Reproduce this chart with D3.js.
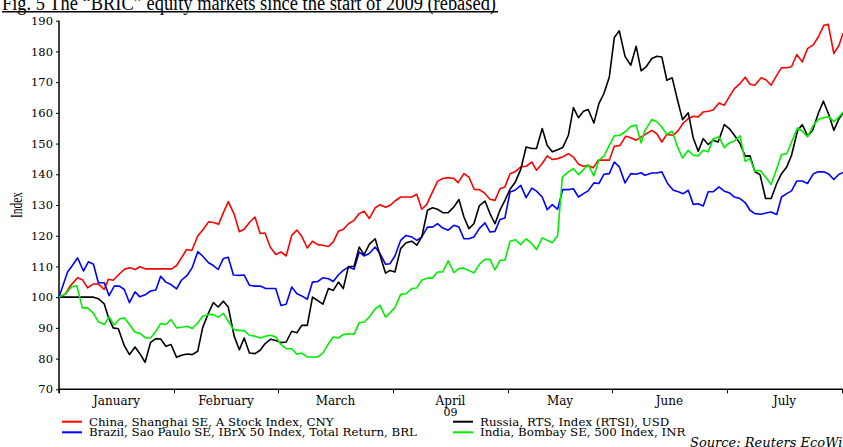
<!DOCTYPE html>
<html>
<head>
<meta charset="utf-8">
<script src="https://cdn.jsdelivr.net/npm/d3@7"></script>
<style>
  body { margin: 0; background: #fff; }
  svg { display: block; }
  .tick text { font-family: "DejaVu Serif", serif; }
</style>
</head>
<body>
<div id="chart"></div>
<script>
// days after 1 Jan 2009, index rebased to 100
var china = [[0,100],[1.6,100.9],[3,103.6],[5,106.3],[6.3,105.7],[7.7,103],[9.3,104.3],[10.6,104.3],[12.2,102.5],[13.3,105.8],[14.6,105.5],[16.4,107.7],[17.8,109.2],[19.1,109.6],[20.5,109],[21.8,109.9],[23.4,109.2],[30.4,109.2],[31.7,110.3],[33,112.8],[34.4,115.5],[35.8,115.2],[37.4,119.9],[38.9,122.1],[40.3,124.5],[41.6,124.3],[43,123.7],[44.3,127.5],[45.6,131.1],[47.2,127],[48.6,121.3],[49.9,122.1],[51.3,124.3],
  [52.8,126.1],[54.2,120.7],[55.5,120.9],[56.9,116.3],[58.4,113.9],[59.8,114.7],[61.2,113.4],[62.7,120.1],[64.1,121.8],[65.4,119.8],[66.9,116],[68.3,118.2],[69.7,117.1],[71.1,116.9],[72.6,116.5],[73.9,118],[75.3,121.5],[76.6,122],[78,123.9],[79.5,125],[80.9,127.2],[82.2,128],[83.6,125.6],[85.2,129.1],[86.5,130.1],[88,129.3],[89.2,129.9],
  [90.5,131.3],[92,132.6],[93.4,132.6],[94.9,132.6],[96.2,133.5],[97.5,128.6],[98.8,130.2],[100.1,133.7],[101.6,137.7],[103,138.6],[104.4,138.9],[105.9,138.6],[107,137.3],[108.5,140.2],[109.8,139.1],[111.2,135.1],[112.5,135],[113.8,134],[115.3,131.9],[116.6,131.5],[117.9,135.3],[119.2,135.9],
  [120.6,140.2],[122.1,140.8],[123.8,142.4],[125.4,142.6],[127.1,144],[128.5,141.3],[130.2,143.5],[131.7,146],[133.2,144.8],[134.8,145.1],[136.2,145.6],[138,146.7],[139.5,145.6],[141,143.3],[142.5,142.6],[143.9,142.9],[145.4,142.1],[146.9,144.6],[148.4,144.6],[150.2,144.6],
  [151.6,149.1],[153.1,149.4],[154.6,152.4],[155.9,151.9],[157.3,151.1],[159.6,152.9],[161.4,154.3],[162.7,153.2],[164,150.5],[165.3,153],[167,152.7],[168.3,154.3],[169.6,156.7],[170.9,158.1],[172.2,158.9],[173.5,158.7],[174.8,160.3],[176.1,160.5],[177.4,160.9],[178.9,163.2],[180.3,162.5],
  [181.6,165.2],[183,167.9],[184.5,169.5],[185.9,171.6],[187.2,169.3],[188.5,169],[190.2,171.4],[191.5,170.8],[192.9,169],[194.4,172.2],[195.7,174.7],[197.1,174.7],[198.4,175],[199.8,179],[201.3,176.6],[202.7,180.9],[204.3,182.2],[205.6,184.7],[207.1,188.5],[208.3,188.8],[209.8,179.3],[211.2,182],[212.3,186]];

var brazil = [[0,100],[2.3,108.2],[3.6,110.3],[5,112.8],[6.6,108.5],[7.9,111.5],[9.3,110.7],[10.6,104.7],[12.2,104.7],[13.5,100.5],[14.9,103.6],[16.3,103.6],[17.6,102.5],[19,98.2],[20.5,101.7],[21.8,100.1],[23.4,100.9],[24.7,102],[26.1,102.3],[27.4,106.8],[28.8,104.9],[30.2,104.1],[31.7,102.7],[33,105.5],[34.6,107.2],[35.9,109.6],[37.4,114.8],[38.7,113.4],[40.3,111.2],[41.6,110.3],[42.9,109],[44.3,112.6],[45.6,113],[47,107.2],[48.6,107.1],[49.9,107.2],[51.3,103.9],
  [52.8,103.6],[54.2,103.6],[55.7,102.8],[58.4,102.8],[59.8,97.3],[61.2,97.7],[62.7,103.3],[64.1,101.1],[65.4,100.4],[66.9,99.3],[68.3,104.9],[69.7,105.1],[71.1,106.3],[72.6,106],[73.9,105.1],[75.3,107.3],[76.6,108.7],[78,109.8],[79.5,109.1],[80.9,114.7],[82.2,113.4],[83.6,114.2],[85.2,116.3],[86.5,114.2],[88,110.7],[89.2,110.9],
  [90.5,113.4],[92,118.5],[93.4,120.1],[94.9,119.6],[96.2,118.5],[97.5,119.6],[99,122.8],[100.3,122.8],[101.6,123.9],[103,122.5],[104.4,121.8],[105.9,123.4],[107.2,122.8],[108.5,119],[109.8,119],[111.1,119.6],[112.5,122.3],[114,124.2],[115.3,121.2],[116.6,121.4],[117.9,125.3],[119.2,125.8],
  [120.6,134.2],[122.1,134.8],[123.8,136.4],[125.4,132.4],[127.1,135.5],[128.5,134.5],[130.2,132.6],[131.7,128.5],[133.2,130.1],[134.8,128.6],[136.3,135],[138,135],[139.5,135.3],[141,132.6],[142.5,133.7],[143.9,134.6],[145.6,137.2],[147.1,137],[148.6,140],[150.2,140.2],
  [151.6,144],[152.9,142.4],[154.4,137.2],[155.9,140.2],[157.3,140],[158.6,140.5],[159.6,139.7],[161.4,140.4],[162.7,140.4],[164,140.8],[165.5,137],[167,134.8],[168.3,134.3],[169.6,133.7],[170.9,134.8],[172.2,130.2],[173.5,130.4],[174.8,129.7],[176.1,134.3],[177.4,134.3],[178.9,135.9],[180.3,134.5],
  [181.6,134],[183,132.6],[184.5,132.1],[185.9,130.8],[187.2,128.3],[188.5,127.2],[190.2,127],[191.5,127.4],[192.9,127.7],[194.4,126.9],[195.7,132.6],[197.1,133.7],[198.4,134.6],[199.8,137.8],[201.3,137.8],[202.7,137],[204.3,140.2],[205.6,140.8],[207.1,140.8],[208.3,140.2],[209.8,138.3],[211.2,140],[212.3,140.6]];

var russia = [[0,100],[9.3,100],[10.6,99.5],[12.2,97.8],[13.3,93.5],[14.6,90],[16,89.7],[17.6,84.2],[19,81.3],[20.5,83.8],[21.8,81.6],[23.2,78.8],[24.7,85.3],[26.1,86.5],[27.4,86.4],[28.8,84],[30.2,84.6],[31.7,80.4],[33,81.1],[34.6,81.5],[35.9,81.3],[37.4,82.4],[38.7,90],[40.3,94.9],[41.6,98.2],[42.9,96.8],[44.3,98.7],[45.6,96.8],[47.2,87.3],[48.6,82.9],[49.9,86.7],[51.3,81.8],
  [52.8,81.6],[54.2,82.7],[55.5,84.8],[57,86.3],[58.4,85.9],[59.8,85.2],[61.2,85.4],[62.7,88.9],[64.1,88.4],[65.4,90.8],[66.9,90.8],[68.3,100],[69.7,98.9],[71.1,97.7],[72.6,102.8],[73.9,102.2],[75.3,104.9],[76.6,102.8],[78,110],[79.5,110],[80.9,116.3],[82.2,113.8],[83.6,117.2],[85.2,119],[86.5,113.6],[88,107.8],[89.2,108.7],
  [90.5,108.2],[92,115.8],[93.4,117.7],[94.9,118.2],[96.2,116.9],[97.5,119.6],[99,128.3],[100.3,129.1],[101.6,128.6],[103,127.5],[104.4,127.5],[105.9,129.4],[107.2,131.8],[108.5,126.1],[109.8,122.3],[111.1,123.9],[112.5,129.7],[114,131.3],[115.3,127.2],[116.6,123.9],[117.9,128.3],[119.2,131.5],
  [120.6,135.1],[122.1,137.3],[123.8,141.6],[125.4,148.9],[127.1,148.4],[128.5,148.4],[130.2,154.9],[131.7,149.4],[133.2,147.3],[134.8,148],[136.3,148.7],[138,152.7],[139.5,161.7],[141,158.4],[142.5,160.5],[143.9,161.1],[145.6,156.7],[147.1,163],[148.6,166.3],[150.2,171.7],
  [151.6,184.5],[152.9,186.7],[154.4,178.4],[155.9,175.5],[157.3,181.7],[158.6,173.7],[159.9,175],[161.4,177.7],[162.7,178.4],[164,178.2],[165.3,170.6],[166.7,171.4],[168.1,164.1],[169.4,157.8],[170.9,160],[172.2,151.8],[173.5,147.5],[174.8,151.6],[176.1,149.7],[177.4,151.1],[178.7,150.5],[180.3,156.2],
  [181.6,154.9],[183,152.7],[184.5,150],[185.9,145.9],[187.2,146],[188.5,140.8],[189.9,139.9],[191.4,132.1],[192.9,132.1],[194.4,137],[195.7,140.2],[197.1,142.4],[198.4,146.2],[200,154.1],[201.3,156.2],[202.7,152.5],[204.1,154.3],[205.6,159.8],[207,163.8],[208.5,159.2],[209.8,154.3],[211.2,158.1],[212.3,160]];

var india = [[0,100],[1.8,101.1],[3.4,103.3],[4.8,103.8],[6.3,96.5],[7.7,96.5],[9.3,94.7],[10.6,92],[12.2,91.1],[13.5,93.6],[14.9,90.9],[16.3,92.9],[17.6,93.3],[19,91.1],[20.5,88.6],[21.8,88.2],[23.4,86.7],[24.7,86.7],[26.1,88.9],[27.4,91.4],[28.8,91.1],[30.2,92.7],[31.7,90],[33,90.2],[34.6,90.5],[35.9,89.8],[37.4,91.6],[38.7,93.8],[40.3,94.3],[41.6,94.3],[42.9,93.5],[44.3,94.7],[45.6,92.2],[47,89.5],[48.6,89.1],[49.9,89.1],[51.3,87.6],
  [52.8,87.3],[54.2,86.7],[55.7,87.3],[57,87.6],[58.4,87],[59.8,84.6],[61.2,83.2],[62.7,83.2],[64.1,81.4],[65.4,81.8],[66.9,80.5],[69.7,80.5],[71.1,81.8],[72.6,84.8],[73.9,87],[75.3,86.7],[76.6,87.8],[78,88.1],[79.5,87.9],[80.9,91.7],[82.2,91.9],[83.6,93.5],[85.2,96.2],[86.5,97.3],[88,93.5],[89.2,94.9],
  [90.5,96.6],[92,100.9],[93.4,101.1],[94.9,102.8],[96.2,103],[97.5,105.5],[99,106.2],[100.3,106.2],[101.6,108.2],[103,108.2],[104.4,111.8],[105.9,108],[107.2,109.3],[108.3,109.5],[111.1,107.9],[112.7,110.9],[114,112.3],[115.3,112.3],[116.6,108.9],[117.9,112],[119.2,112],
  [120.6,118.2],[122.3,118.7],[123.8,117.1],[125.4,119],[127.1,117.4],[128.5,115.5],[130.2,119.3],[131.7,118.5],[133.2,117.7],[134.8,120.1],[136.2,139.1],[138,140.8],[139.5,141.8],[141,139.9],[142.5,141.5],[143.9,143.1],[145.6,139.5],[147.1,144.6],[148.6,145.9],[150.2,149.4],
  [151.6,152.5],[153.1,152.7],[154.6,154],[155.9,155.6],[157.3,156],[158.6,150.2],[159.6,154.3],[161.4,157.8],[162.7,157.1],[164,155.4],[165.3,153],[166.7,154],[168.1,148.9],[169.4,145.3],[170.9,147.8],[172.2,146.2],[173.5,146],[174.8,147.8],[176.1,147.3],[177.4,151.6],[178.9,152.2],[180.3,148.7],
  [181.6,150.2],[183,150.8],[184.5,152.5],[185.9,144.2],[187.2,145.1],[188.5,141],[189.9,141.3],[191.4,139.1],[192.9,136.7],[194.4,141.8],[195.7,146.4],[197.1,146.7],[198.4,150.5],[200,155.1],[201.3,154],[202.7,152.2],[204.3,156],[205.6,157.8],[207,158.4],[208.5,158.7],[209.8,157.1],[211.2,158.7],[212.3,160.3]];

var monthNames = ["January", "February", "March", "April", "May", "June", "July"];
var yTicks = [70, 80, 90, 100, 110, 120, 130, 140, 150, 160, 170, 180, 190];
var legendLabels = [
  "China, Shanghai SE, A Stock Index, CNY",
  "Brazil, Sao Paulo SE, IBrX 50 Index, Total Return, BRL",
  "Russia, RTS, Index (RTSI), USD",
  "India, Bombay SE, 500 Index, INR"
];

var series = [
  {name: legendLabels[0], data: china,  color: "#ff0000"},
  {name: legendLabels[1], data: brazil, color: "#0000ff"},
  {name: legendLabels[2], data: russia, color: "#000000"},
  {name: legendLabels[3], data: india,  color: "#00ee00"}
];

var width = 843, height = 447;
var t0 = Date.UTC(2009, 0, 1);
function toDate(day) { return new Date(t0 + day * 864e5); }

var monthStarts = d3.range(0, 8).map(function(m) { return new Date(Date.UTC(2009, m, 1)); });

var svg = d3.select("#chart").append("svg")
    .attr("width", width)
    .attr("height", height);

// month widths on the source axis are not equal in pixels, so polylinear
var x = d3.scaleUtc()
    .domain(monthStarts)
    .range([59, 174, 278, 393, 508, 612, 727, 842]);

var y = d3.scaleLinear()
    .domain([70, 190])
    .range([389.3, 20.7]);

// title (top is cut off in the original)
svg.append("text")
    .attr("x", 2)
    .attr("y", 10)
    .attr("textLength", 494)
    .attr("lengthAdjust", "spacingAndGlyphs")
    .style("font-family", "'Liberation Serif', 'Times New Roman', serif")
    .style("font-size", "20px")
    .text("Fig. 5 The \u201CBRIC\u201D equity markets since the start of 2009 (rebased)");

svg.append("line")
    .attr("x1", 2).attr("x2", 498)
    .attr("y1", 11.8).attr("y2", 11.8)
    .attr("stroke", "#000")
    .attr("stroke-width", 1.6);

// y axis
var yAxis = svg.append("g")
    .attr("transform", "translate(59,0)")
    .call(d3.axisLeft(y).tickValues(yTicks).tickSize(3).tickPadding(3));
yAxis.select(".domain").remove();
yAxis.selectAll(".tick text").style("font-size", "11.5px");
yAxis.selectAll(".tick line").attr("stroke-width", 1);

svg.append("line")
    .attr("x1", 59).attr("x2", 59)
    .attr("y1", y(190)).attr("y2", y(70) + 4)
    .attr("stroke", "#000").attr("stroke-width", 1.5);

svg.append("text")
    .attr("transform", "translate(22,205) rotate(-90)")
    .attr("text-anchor", "middle")
    .attr("textLength", 26)
    .attr("lengthAdjust", "spacingAndGlyphs")
    .style("font-family", "'Liberation Serif', serif")
    .style("font-size", "16px")
    .text("Index");

// x axis
var xAxis = svg.append("g")
    .attr("transform", "translate(0," + y(70) + ")")
    .call(d3.axisBottom(x).tickValues(monthStarts).tickSize(4).tickFormat(""));
xAxis.select(".domain")
    .attr("d", "M59,0H" + width)
    .attr("stroke-width", 1.5);

svg.append("g")
  .selectAll("text")
  .data(monthNames)
  .enter().append("text")
    .attr("x", function(d, i) { return (x(monthStarts[i]) + x(monthStarts[i + 1])) / 2; })
    .attr("y", 404.5)
    .attr("text-anchor", "middle")
    .style("font-family", "'DejaVu Serif', serif")
    .style("font-size", "12px")
    .text(function(d) { return d; });

svg.append("text")
    .attr("x", (x(monthStarts[3]) + x(monthStarts[4])) / 2)
    .attr("y", 415.5)
    .attr("text-anchor", "middle")
    .style("font-family", "'DejaVu Serif', serif")
    .style("font-size", "11px")
    .text("09");

// lines
var line = d3.line()
    .x(function(d) { return x(toDate(d[0])); })
    .y(function(d) { return y(d[1]); });

svg.append("g")
  .selectAll("path")
  .data(series)
  .enter().append("path")
    .attr("fill", "none")
    .attr("stroke", function(d) { return d.color; })
    .attr("stroke-width", 1.6)
    .attr("stroke-linejoin", "round")
    .attr("d", function(d) { return line(d.data); });

// legend, two columns
var legendPos = [[62, 421.7], [62, 432.3], [453, 421.7], [453, 432.3]];
var legend = svg.append("g")
  .selectAll("g")
  .data(series)
  .enter().append("g")
    .attr("transform", function(d, i) { return "translate(" + legendPos[i][0] + "," + legendPos[i][1] + ")"; });

legend.append("line")
    .attr("x1", 0).attr("x2", 20)
    .attr("stroke", function(d) { return d.color; })
    .attr("stroke-width", 2);

legend.append("text")
    .attr("x", 27)
    .attr("y", 3.8)
    .style("font-family", "'DejaVu Serif', serif")
    .style("font-size", "11.8px")
    .text(function(d) { return d.name; });

svg.append("text")
    .attr("x", 690)
    .attr("y", 446.5)
    .style("font-family", "'DejaVu Serif', serif")
    .style("font-style", "italic")
    .style("font-size", "13px")
    .text("Source: Reuters EcoWin");
</script>
</body>
</html>
